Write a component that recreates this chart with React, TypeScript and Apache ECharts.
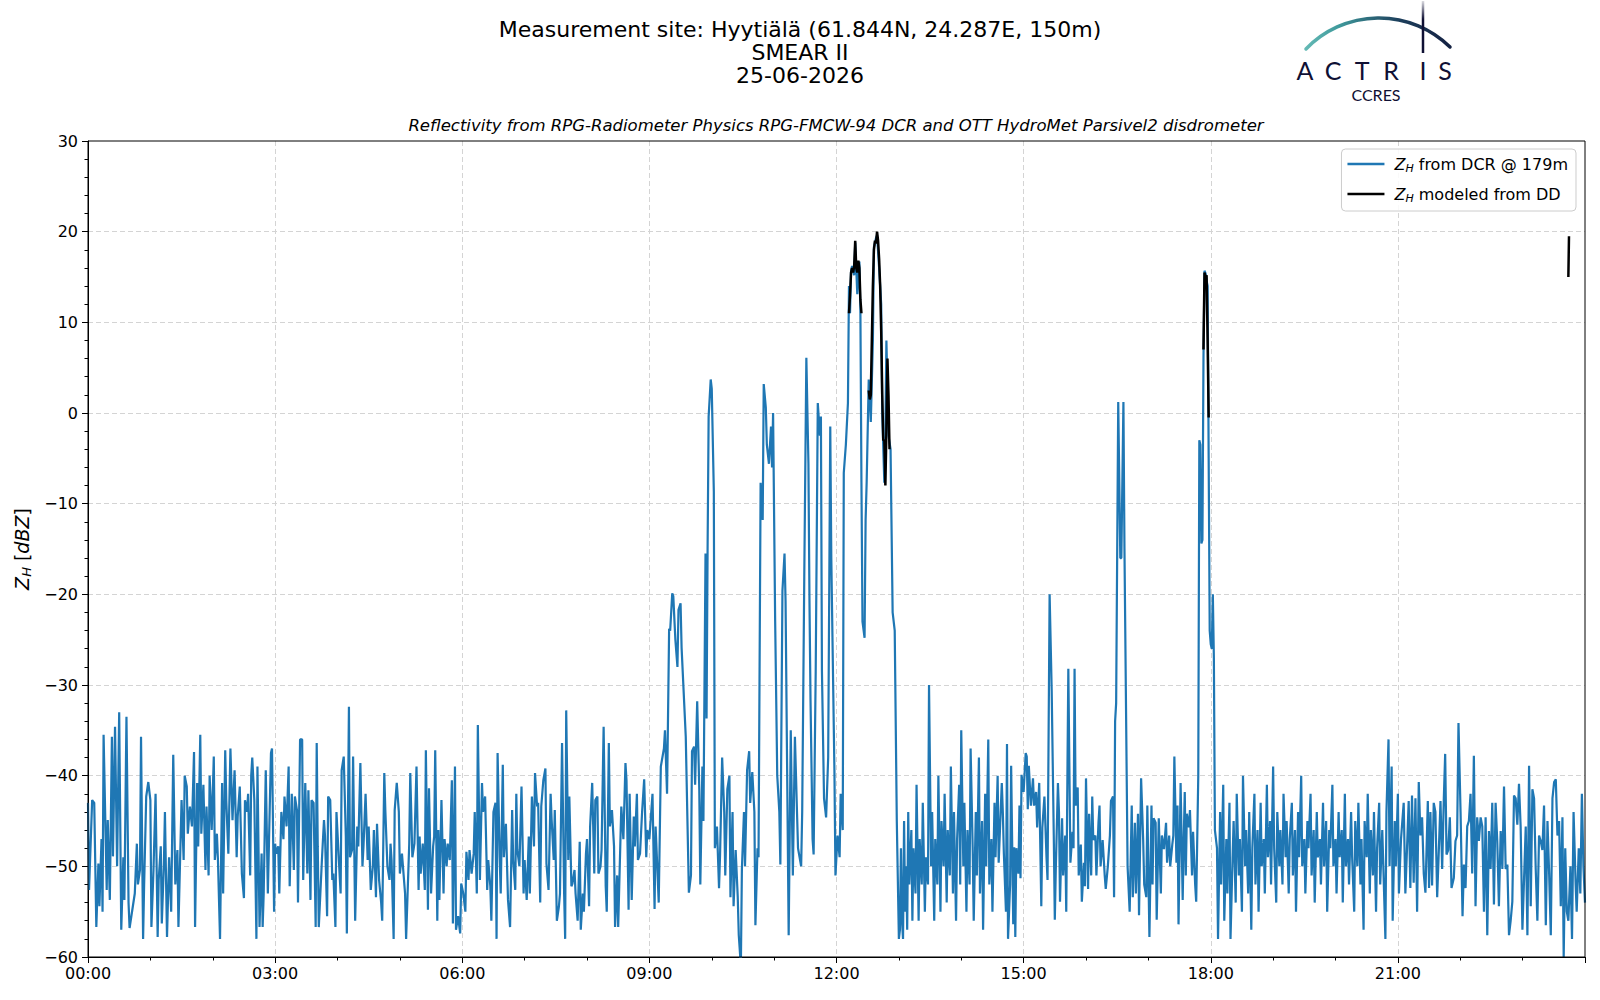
import React, { useEffect, useRef } from 'react';
import * as echarts from 'echarts';

const FONT = 'DejaVu Sans';
const BLUE = '#1f77b4';
const NAVY = '#0f1034';

const titleLines = ['Measurement site: Hyytiälä (61.844N, 24.287E, 150m)', 'SMEAR II', '25-06-2026'];
const subtitle = 'Reflectivity from RPG-Radiometer Physics RPG-FMCW-94 DCR and OTT HydroMet Parsivel2 disdrometer';
const xTickLabels = ['00:00', '03:00', '06:00', '09:00', '12:00', '15:00', '18:00', '21:00'];
const seriesNames = ['Z_H from DCR @ 179m', 'Z_H modeled from DD'];
const legendTexts = ['{i|Z}{s|H} from DCR @ 179m', '{i|Z}{s|H} modeled from DD'];
const logoLetters = ['A', 'C', 'T', 'R', 'I', 'S'];

// [minute of day, dBZ]
const dcrNight: [number, number][] = [
  [0,-43],[1,-52.6],[4,-42.7],[6,-43],[8,-56.7],[10,-49.7],[11,-54.4],[13,-47],[14,-55],[15,-35.5],[18,-52.6],[19,-44.9],[21,-53.7],[23,-35.7],[24,-48.9],[26,-34.6],[28,-50],[30,-33],[32,-57],[34,-49],[35,-53.7],[37,-33.5],[39,-54],[40,-56.8],[45,-53],[47,-47.5],[48,-52],[50,-50.4],[51,-35.7],[53,-58],[54,-52],[56,-42.3],[58,-40.7],
  [60,-42.7],[61,-56.7],[63,-50.4],[65,-42],[67,-57.8],[68,-51.5],[70,-47.8],[71,-56.3],[73,-49.7],[74,-44],[76,-57.8],[78,-49],[80,-55],[82,-37.7],[84,-52],[86,-48.2],[87,-56.7],[90,-42.7],[92,-49.3],[93,-40],[95,-41.2],[96,-46.4],[98,-43.4],[100,-45.6],[102,-37.4],[103,-56.7],[105,-40.8],[106,-47.8],[108,-35.5],[109,-46.4],[111,-41],[113,-50.4],[114,-43.4],[116,-51],[117,-40],[119,-46],
  [121,-37.9],[122,-49.3],[124,-46.4],[125,-49.3],[127,-58],[129,-40.8],[130,-53],[132,-37.2],[133,-42.7],[135,-48.6],[137,-37],[139,-44.9],[141,-39.4],[143,-49],[144,-44.5],[146,-41.2],[148,-50.8],[150,-53.5],[151,-42.7],[153,-44],[154,-42],[156,-51],[157,-40],[158,-38],[160,-42.7],[162,-58],[163,-39],[165,-56.7],[167,-48.6],[168,-56.7],[169,-53],[171,-39.4],[173,-53],[174,-47.8],[176,-37.5],[177,-37],[179,-55],
  [180,-47.5],[181,-48.6],[183,-47.8],[184,-53],[186,-44],[188,-47],[189,-42.3],[191,-45.6],[193,-39],[194,-52.2],[196,-42],[198,-50.4],[199,-42.3],[201,-43.8],[202,-54],[204,-36],[206,-36],[207,-51.5],[209,-40.8],[211,-50.8],[212,-41.6],[214,-53.7],[215,-42.7],[217,-43],[219,-56.7],[220,-36.4],[221,-47.8],[222,-56.7],[225,-49.3],[227,-44.9],[228,-46.7],[230,-55.5],[231,-42.3],[233,-42.7],[235,-51.5],[236,-50.8],[238,-56.7],[239,-44],
  [241,-48.6],[243,-53],[244,-39.4],[246,-37.9],[248,-46.7],[249,-57.4],[251,-32.4],[252,-49],[254,-48.2],[255,-37.9],[257,-56],[259,-45.6],[260,-47.8],[262,-38.6],[264,-50],[265,-47.8],[267,-42],[269,-49.3],[270,-45.6],[272,-52.6],[274,-50],[275,-46],[277,-53.4],[278,-45.3],[280,-51.5],[282,-54],[283,-56],[285,-39.7],[286,-43.8],[288,-50],[290,-51.5],[291,-47.5],[292,-49.3],[294,-58],[295,-43.8],[297,-40.8],[299,-44],
  [300,-50.8],[302,-48.6],[305,-53],[306,-58],[309,-47.5],[310,-39.7],[312,-49],[314,-47.5],[316,-39],[318,-52.6],[319,-46.7],[320,-50.8],[322,-47.5],[324,-52.6],[325,-37.2],[327,-54.8],[328,-41.4],[330,-53],[332,-47.8],[333,-46.7],[334,-37.2],[336,-56],[337,-46],[338,-53.7],[340,-42.7],[342,-53],[343,-47],[345,-50],[346,-47.5],[348,-49.3],[350,-40.5],[351,-56.3],[353,-39],[354,-57],[356,-55.5],[358,-57.4],[359,-51.9],
  [361,-53],[363,-55],[364,-48.4],[366,-51.5],[367,-48.2],[369,-50.8],[371,-48.6],[372,-44],[374,-53],[375,-34.4],[377,-51.5],[379,-40.8],[380,-44],[382,-42.3],[384,-52.6],[385,-49.3],[387,-52.2],[388,-56],[390,-44],[392,-43],[393,-58],[394,-37.5],[396,-49],[397,-53],[399,-38.8],[400,-49],[402,-45.3],[404,-53.7],[406,-56.7],[408,-43.8],[409,-49.3],[411,-52.6],[412,-42],[413,-48.2],[415,-50],[417,-41.2],[419,-53],
  [420,-49.3],[422,-53.7],[424,-46.7],[425,-53],[427,-42.3],[429,-47.8],[430,-39.7],[432,-43.4],[433,-43],[435,-54],[436,-43.4],[438,-40.5],[440,-39.2],[441,-49.7],[443,-52.6],[445,-42],[446,-44.9],[448,-49.3],[449,-43.8],[451,-56],[453,-54.4],[454,-53],[456,-36.4],[458,-53],[459,-58],[460,-32.8],[462,-49.3],[463,-42.3],[465,-52.2],[466,-51.9],[468,-50.4],[469,-53],[471,-56],[473,-47.3],[474,-57],[476,-53],[477,-55],[479,-48.6],
  [480,-47],[482,-54.4],[483,-45.6],[485,-40.8],[487,-50.8],[488,-42.7],[490,-42.3],[491,-50.8],[493,-50],[494,-48.2],[496,-34.6],[498,-52.2],[499,-55],[501,-36.4],[502,-45.6],[504,-43.8],[506,-47.8],[507,-56.7],[509,-51],[510,-56.7],[512,-47.8],[513,-43.4],[515,-47],[517,-38.6],[518,-40.5],[520,-54.8],[521,-42],[523,-53.7],[525,-44.5],[526,-47.8],[528,-42],[529,-49.3],[531,-48.6],[533,-44],[535,-40.4],[537,-49],[538,-46],
];

const dcrRain: [number, number][] = [
  [540,-47],[543,-42],[545,-54.7],[546,-45.6],[549,-54],[551,-39],[554,-37],[555,-35],[557,-42],[559,-23.8],[560,-24],[562,-19.9],[563,-20.2],[565,-25],[567,-28],[568,-21.7],[570,-21],[571,-25.9],[575,-35.7],[578,-52.9],[580,-51],[581,-37.3],[583,-36.8],[584,-41],[586,-31.8],[588,-41.5],[589,-52],[591,-39],[592,-45],[594,-15.5],[595,-33.7],[596,-15],[597,-0.4],[599,3.7],
  [600,2.7],[602,-8.7],[603,-48],[605,-45.6],[607,-52.4],[608,-48.7],[610,-38],[612,-44],[613,-51],[615,-41.5],[617,-40],[618,-53.4],[620,-44],[621,-54.4],[623,-48.2],[625,-53.4],[626,-57.6],[628,-61],[629,-50.3],[631,-44],[632,-50],[634,-39.4],[636,-37.3],[637,-43],[639,-39.6],[641,-44],[642,-56.5],[644,-48],[645,-49],[647,-7.7],[649,-11.8],[650,3.2],[652,0.6],[653,-3.5],[655,-5.6],[657,-1.5],[658,-6],[659,0],
  [661,-23],[663,-40],[665,-44],[666,-49.8],[668,-19.6],[670,-15.5],[671,-20.7],[674,-57.6],[676,-35],[678,-51],[680,-35.7],[682,-44],[683,-48],[686,-50],[687,-44],[689,-18],[691,6.1],[693,-5.6],[694,-20.7],[695,-31.6],[697,-47],[698,-48.7],[700,-28.5],[702,1.1],[704,-2.5],[705,-0.4],[706,-28.5],[708,-42.5],[710,-44.6],[712,-38],[714,-1.5],[715,-16],[718,-39.4],[719,-51],
  [721,-46.6],[723,-49],[724,-42],[726,-46],[727,-6.6],[729,-3.5],[731,1.1],[732,14],[733,11],[734,15.7],[735,16.2],[737,15.2],[738,18.8],[740,13.1],[742,16.7],[743,11],[744,-7.7],[745,-23],[747,-24.8],[748,-11.8],[749,-7.7],[751,3.7],[752,1.7],[753,-1],[755,8],[756,18.3],[758,19.3],[759,19.6],[761,16],[763,12],[764,0],[766,-7.7],[767,-2.5],[768,8],[770,-2.5],[772,-4],[774,-22],[776,-24],[778,-45],[780,-58],
];

const dcrAfternoon: [number, number][] = [
  [781,-57],[782,-48],[783,-56],[784,-58],[785,-45],[786,-55],[787,-50],[788,-57],[789,-44],[790,-52],[792,-46],[793,-56],[794,-48],[796,-53],[797,-41],[799,-56],[800,-47],[802,-52],[803,-43],[805,-55],[806,-49],[808,-52],[809,-30],[811,-50],[812,-44],[814,-56],[815,-47],[817,-52],[818,-40],[820,-55],[821,-45],[823,-50],[824,-42],[826,-54],[827,-46],[829,-51],[830,-39],[832,-53],[833,-44],[835,-56],[836,-47],[838,-41],[839,-52],
  [840,-35],[842,-50],[843,-43],[845,-55],[846,-46],[848,-52],[849,-37],[851,-48],[852,-56],[854,-44],[855,-51],[857,-38],[858,-53],[860,-45],[861,-57],[863,-42],[864,-50],[866,-36],[867,-52],[869,-47],[870,-55],[872,-43],[873,-49],[875,-40],
  [876,-49.6],[879,-40.8],[880,-44],[881,-48.6],[883,-55],[884,-36.5],[885,-58],[887,-52],[888,-38.9],[890,-56.4],[891,-47.9],[892,-57.8],[893,-48],[895,-50.8],[896,-43.3],[897,-51.3],[898,-39.9],
  [900,-41.8],[902,-37.5],[903,-37.9],[904,-43.7],[905,-38.9],[907,-43.3],[909,-40.3],[910,-43.3],[912,-41.8],[913,-45.7],[915,-40.8],[917,-54.4],[918,-45.7],[920,-42.3],[922,-49],[923,-51.5],[925,-20],[927,-30.6],[929,-46.6],[930,-55.9],[931,-50],[933,-40.8],[934,-44],[935,-53.9],[937,-44.7],[938,-51],[940,-46.6],[941,-55],[943,-28.2],[945,-49.6],[947,-46.2],[948,-48],[949,-28.2],[950,-43.3],[952,-41.3],[953,-51],[955,-47.6],[956,-53.9],[958,-49.6],[959,-52.2],
  [960,-40.3],[962,-52.5],[963,-44.2],[965,-51],[966,-42.3],[967,-47.1],[969,-46.6],[970,-51],[972,-45.2],[973,-43.3],[974,-50],[976,-47.1],[978,-51],[979,-52.5],[981,-50],[983,-46.6],[984,-42.8],[986,-42.3],[987,-53.4],[988,-34],[989,-32],[991,1.2],[993,-16],[994,-16],[996,1.2],[997,-15],[999,-38.4],[1000,-50],[1002,-55],[1004,-43.3],[1005,-53.4],[1007,-45.2],[1008,-53],[1010,-44.2],[1011,-55.4],[1013,-40.3],[1015,-47.1],[1016,-52],[1018,-53.4],[1019,-43.3],
  [1021,-57.8],[1023,-43.3],[1024,-52],[1025,-44.7],[1027,-45.2],[1028,-55.9],[1030,-44.7],[1032,-53],[1033,-46.6],[1035,-48.1],[1037,-45.2],[1038,-49.6],[1040,-46.6],[1041,-50],[1043,-47.6],[1044,-46.6],[1045,-37.9],[1047,-49.6],[1048,-43.3],[1049,-56.4],[1051,-40.8],[1053,-53.7],[1054,-47.1],[1055,-41.8],[1056,-51],[1057,-44.2],[1059,-45.7],[1060,-43.8],[1062,-51],[1063,-46.2],[1065,-52],[1066,-53.9],
  [1068,-40],[1069,-3],[1070,-3.5],[1071,-14.4],[1072,-14],[1073,6],[1074,15.7],[1075,15.4],[1076,14.6],[1077,14],[1078,-5],[1079,-24],[1080,-25.5],[1081,-26],[1082,-20],[1083,-27],[1084,-46],
];

const dcrEvening: [number, number][] = [
  [1086,-48],[1087,-58],[1089,-44],[1090,-52],[1092,-41],[1093,-56],[1095,-47],[1096,-53],[1098,-43],[1099,-58],[1101,-49],[1102,-45],[1104,-54],[1105,-42],[1107,-51],[1108,-47],[1110,-55],[1111,-40],[1113,-50],[1114,-46],[1116,-53],[1117,-44],[1119,-57],[1120,-48],[1122,-42],[1123,-52],[1125,-46],[1126,-55],[1128,-43],[1129,-50],[1131,-47],[1132,-53],[1134,-41],[1135,-49],[1137,-45],[1138,-52],
  [1140,-39],[1141,-48],[1143,-54],[1144,-44],[1146,-50],[1147,-46],[1149,-52],[1150,-42],[1152,-49],[1153,-45],[1155,-53],[1156,-47],[1158,-43],[1159,-51],[1161,-46],[1162,-55],[1164,-44],[1165,-49],[1167,-40],[1168,-50],[1170,-47],[1171,-53],[1173,-45],[1174,-48],[1176,-42],[1177,-51],[1179,-46],[1180,-54],[1182,-44],[1183,-49],[1185,-47],[1186,-52],[1188,-43],[1189,-50],[1191,-45],[1192,-55],[1194,-46],[1195,-48],[1197,-41],[1198,-50],
  [1200,-47],[1201,-53],[1203,-44],[1204,-49],[1206,-46],[1207,-54],[1209,-42],[1210,-50],[1212,-47],[1213,-52],[1215,-44],[1216,-49],[1218,-55],[1219,-45],[1221,-50],[1222,-43],[1224,-52],[1225,-47],[1227,-57],[1228,-45],[1230,-49],[1231,-42],[1233,-53],[1234,-46],[1236,-51],[1237,-44],[1239,-55],[1240,-48],[1242,-43],[1243,-52],[1245,-46],[1246,-50],[1248,-58],[1249,-44],[1251,-36],[1252,-50],[1254,-39],[1255,-56],[1257,-45],[1258,-50],[1260,-42],[1261,-53],[1263,-47],
  [1265.6,-43],[1267.2,-53],[1268.8,-48],[1270.4,-42.8],[1272,-52.4],[1273.6,-42.2],[1275.2,-51.8],[1276.9,-42.5],[1278.5,-55],[1280.1,-40.7],[1281.7,-46.6],[1283.3,-44.6],[1284.9,-50.8],[1286.5,-52.9],[1288.8,-42.8],[1290,-52.4],[1291.3,-44],[1292.9,-52.1],[1294.5,-43],[1296.1,-44],[1297.8,-53.4],[1299.4,-48.2],[1301,-42.8],[1302.6,-50.3],[1304.2,-42.5],[1305.5,-37.6],[1306.8,-48.7],[1308.4,-48.2],[1310,-44.6],[1311.6,-52.4],[1313.8,-51.3],[1315.4,-47.2],[1317,-46.6],[1318.3,-34.2],[1320.3,-44],[1322.2,-55.5],[1323.5,-49.8],[1325.1,-52.4],[1326.7,-45.6],[1328.3,-45],[1329.9,-42],
  [1331.5,-50.8],[1333.1,-37.8],[1334.7,-54.4],[1336.3,-44.6],[1337.9,-47.2],[1339.6,-44.6],[1341.2,-45.6],[1342.8,-55],[1344.4,-44.6],[1346,-57.6],[1347.6,-46.1],[1349.2,-50.3],[1350.8,-43],[1352.4,-54.2],[1354,-43],[1355.6,-47.2],[1357.2,-54.4],[1358.9,-46.1],[1360.5,-50.3],[1362.1,-41.2],[1363.7,-50.3],[1365.3,-49.8],[1366.9,-57.6],[1368.5,-56],[1370.1,-53.9],[1371.7,-42.2],[1373.3,-42.5],[1374.9,-45.4],[1376.5,-40.9],[1378.1,-45.6],[1379.8,-57],[1381.4,-51.3],[1383,-45.6],[1384.6,-57.6],[1386.2,-38.9],[1387.8,-54.4],[1389.4,-41.5],[1391,-42.5],[1392.6,-50.3],[1394.2,-56],[1395.8,-46.6],[1397.4,-47.2],[1399,-48.2],
  [1400.6,-43.3],[1402.3,-56.5],[1403.9,-45],[1405.5,-50.8],[1407.1,-57.6],[1408.7,-42.5],[1410.3,-40.7],[1411.9,-40.4],[1413.5,-46.6],[1415.1,-45],[1416.7,-54.4],[1418.3,-44.6],[1419.5,-60],[1421,-48],[1422.5,-55],[1424,-56],[1426,-50],[1427.5,-58],[1429,-44],[1431,-52],[1432,-55],[1434,-48],[1435.5,-53],[1437,-42],[1438.5,-50],[1440,-54],
];

const ddNoonA: [number, number][] = [
  [732,11],[733,13],[734,15.5],[735,16],[736,15.5],[737,16.2],[738,19],[739,16],[740,15.5],[741,16.8],[742,16],[743,12.5],[744,11],
];
const ddNoonB: [number, number][] = [
  [751,2.5],[752,1.5],[753,2],[754,8],[755,14],[756,18],[757,19],[758,18.7],[759,20],[760,19],[761,17],[762,14],[763,9],[764,2],[765,-3],[766,-3],[767,-8],[768,-2],[769,6],[770,2],[771,-4],
];
const ddEvening: [number, number][] = [[1073,7],[1074,15.5],[1075,15],[1076,15.2],[1077,8],[1078,-0.5]];
const ddLate: [number, number][] = [[1424,15],[1424.6,19.5]];

function buildOption() {
  const dcr = [...dcrNight, ...dcrRain, ...dcrAfternoon, ...dcrEvening];
  const segs = [ddNoonA, ddNoonB, ddEvening, ddLate];
  const dd: any[] = [];
  segs.forEach((s, i) => {
    if (i > 0) dd.push([(segs[i - 1][segs[i - 1].length - 1][0] + s[0][0]) / 2, '-']);
    s.forEach((p) => dd.push(p));
  });

  const rich = {
    i: { fontStyle: 'italic', fontFamily: FONT, fontSize: 16, lineHeight: 20 },
    s: { fontStyle: 'italic', fontFamily: FONT, fontSize: 11, lineHeight: 11, verticalAlign: 'bottom' },
  };
  const yRich = {
    i: { fontStyle: 'italic', fontFamily: FONT, fontSize: 19, lineHeight: 23 },
    s: { fontStyle: 'italic', fontFamily: FONT, fontSize: 13, lineHeight: 12, verticalAlign: 'bottom' },
  };

  const arcGrad = new echarts.graphic.LinearGradient(1278, 0, 1480, 0, [
    { offset: 0, color: '#82d3c9' },
    { offset: 0.3, color: '#3f9a9c' },
    { offset: 0.6, color: '#1d3f5c' },
    { offset: 1, color: NAVY },
  ], true);
  const stemGrad = new echarts.graphic.LinearGradient(0, 1, 0, 53, [
    { offset: 0, color: 'rgba(15,16,52,0.15)' },
    { offset: 0.35, color: NAVY },
    { offset: 1, color: NAVY },
  ], true);
  const letterX = [1305, 1333, 1362, 1391, 1423, 1445];

  const centered = { align: 'center', verticalAlign: 'middle', textAlign: 'center', textVerticalAlign: 'middle' };
  const graphic: any[] = [
    ...titleLines.map((t, i) => ({
      type: 'text', x: 800, y: 29 + i * 23,
      style: { text: t, fontSize: 22, fontFamily: FONT, fill: '#000', ...centered },
    })),
    {
      type: 'text', x: 836, y: 125.5,
      style: { text: subtitle, fontSize: 16.5, fontStyle: 'italic', fontFamily: FONT, fill: '#000', ...centered },
    },
    {
      type: 'arc',
      shape: { cx: 1379, cy: 119.2, r: 101.3, startAngle: -2.376, endAngle: -0.794, clockwise: true },
      style: { stroke: arcGrad, lineWidth: 3.5, fill: 'none', lineCap: 'round' },
    },
    {
      type: 'line', shape: { x1: 1423, y1: 1, x2: 1423, y2: 53 },
      style: { stroke: stemGrad, lineWidth: 2.5 },
    },
    ...logoLetters.map((l, i) => ({
      type: 'text', x: letterX[i], y: 69.5,
      style: { text: l, fontSize: 25, fontFamily: 'Lato', fill: NAVY, ...centered },
    })),
    {
      type: 'text', x: 1376, y: 94.5,
      style: { text: 'CCRES', fontSize: 16, fontFamily: 'Lato', fill: NAVY, ...centered },
    },
  ];

  const splitLine = { show: true, showMinLine: false, showMaxLine: false, lineStyle: { color: '#d4d4d4', type: [5, 3], width: 1 } };

  return {
    animation: false,
    backgroundColor: '#fff',
    textStyle: { fontFamily: FONT },
    grid: { left: 88, right: 15, top: 141, bottom: 43, show: true, borderColor: '#000', borderWidth: 1, backgroundColor: 'transparent', z: 5 },
    legend: {
      data: seriesNames,
      orient: 'vertical',
      right: 24,
      top: 149,
      icon: 'rect',
      itemWidth: 37,
      itemHeight: 2.5,
      itemGap: 10,
      padding: [5, 8, 7, 6],
      backgroundColor: 'rgba(255,255,255,0.85)',
      borderColor: '#cccccc',
      borderWidth: 1,
      borderRadius: 4,
      formatter: (name: string) => legendTexts[seriesNames.indexOf(name)],
      textStyle: { fontFamily: FONT, fontSize: 16, color: '#000', lineHeight: 20, padding: [0, 0, 0, 5], rich },
    },
    xAxis: {
      type: 'value', min: 0, max: 1440, interval: 180,
      axisLine: { show: true, onZero: false, lineStyle: { color: '#000', width: 1 } },
      axisTick: { show: true, length: 6, lineStyle: { color: '#000', width: 1 } },
      minorTick: { show: true, splitNumber: 3, length: 3.5, lineStyle: { color: '#000', width: 1 } },
      axisLabel: {
        fontFamily: FONT, fontSize: 16, color: '#000', margin: 8,
        formatter: (v: number) => (v >= 1440 ? '' : xTickLabels[Math.round(v / 180)] || ''),
      },
      splitLine,
      minorSplitLine: { show: false },
    },
    yAxis: {
      type: 'value', min: -60, max: 30, interval: 10,
      name: '{i|Z}{s|H} [{i|dBZ}]',
      nameLocation: 'middle', nameRotate: 90, nameGap: 52,
      nameTextStyle: { fontFamily: FONT, fontSize: 19, color: '#000', lineHeight: 23, rich: yRich },
      axisLine: { show: true, onZero: false, lineStyle: { color: '#000', width: 1 } },
      axisTick: { show: true, length: 6, lineStyle: { color: '#000', width: 1 } },
      minorTick: { show: true, splitNumber: 5, length: 3.5, lineStyle: { color: '#000', width: 1 } },
      axisLabel: {
        fontFamily: FONT, fontSize: 16, color: '#000', margin: 10,
        formatter: (v: number) => (v < 0 ? '\u2212' + Math.abs(v) : String(v)),
      },
      splitLine,
    },
    series: [
      {
        name: seriesNames[0], type: 'line', data: dcr, showSymbol: false, symbol: 'none',
        lineStyle: { color: BLUE, width: 2.2 }, itemStyle: { color: BLUE }, clip: true, z: 2,
      },
      {
        name: seriesNames[1], type: 'line', data: dd, showSymbol: false, symbol: 'none', connectNulls: false,
        lineStyle: { color: '#000', width: 2.5 }, itemStyle: { color: '#000' }, clip: true, z: 3,
      },
    ],
    graphic,
  };
}

export default function App() {
  const ref = useRef<HTMLDivElement>(null);
  useEffect(() => {
    if (!ref.current) return;
    const chart = echarts.init(ref.current, null, { renderer: 'svg' });
    chart.setOption(buildOption() as any);
    return () => chart.dispose();
  }, []);
  return <div ref={ref} style={{ position: 'fixed', left: 0, top: 0, width: 1600, height: 1000, background: '#fff' }} />;
}
